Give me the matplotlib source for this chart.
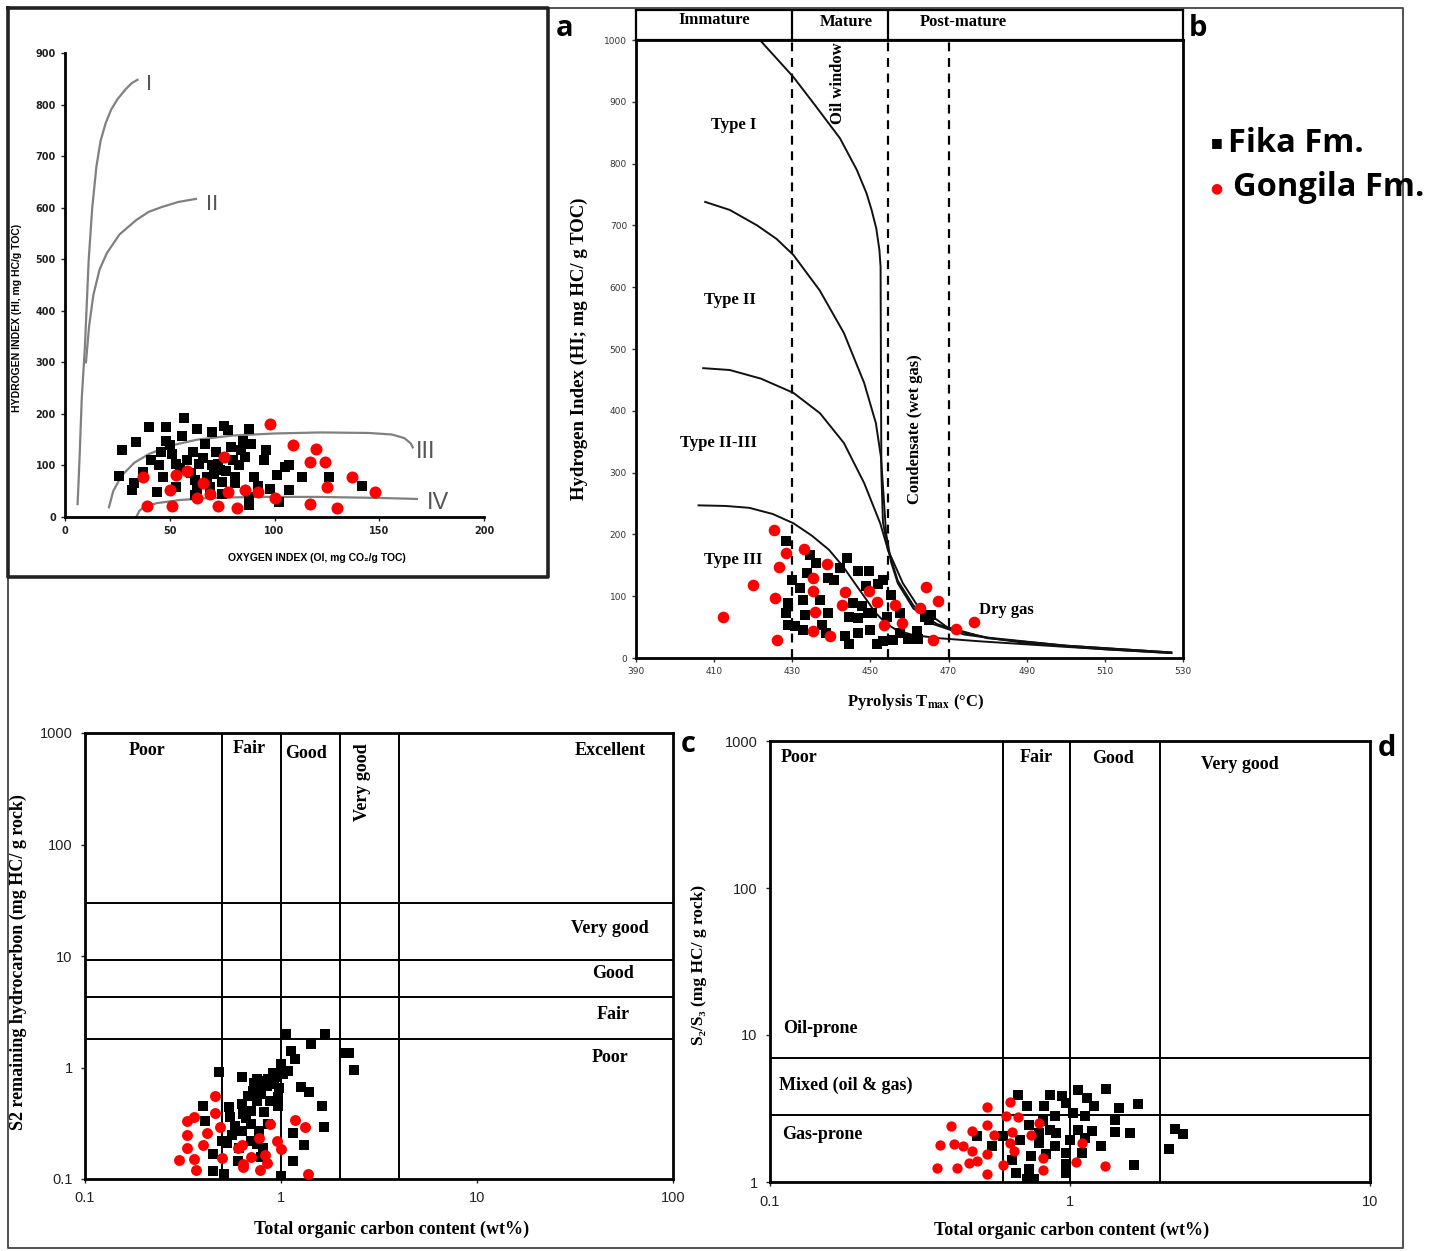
import matplotlib.pyplot as plt
from matplotlib.ticker import NullLocator

plt.rcParams['mathtext.fontset'] = 'stix'

W, H = 1433, 1251

# ---------------- data ----------------
# panel a: HI vs OI
a_fika_oi = [27, 26, 34, 40, 48, 57, 56, 63, 70, 76, 78, 88, 48, 41, 46, 51, 53, 61, 67, 72,
             79, 85, 89, 86, 96, 95, 80, 73, 64, 58, 71, 77, 81, 90, 101, 105, 107, 113, 126, 142,
             32, 33, 44, 47, 53, 62, 68, 62, 75, 81, 88, 88, 98, 102, 107, 75, 69,
             55, 60, 66, 70, 74, 83, 92, 45, 37, 50, 63, 84]
a_fika_hi = [129, 79, 145, 174, 174, 192, 158, 171, 165, 177, 168, 171, 148, 110, 126, 123, 103, 126, 142, 126,
             135, 148, 142, 116, 129, 110, 110, 103, 103, 110, 84, 90, 77, 77, 81, 97, 100, 77, 77, 61,
             52, 65, 48, 77, 58, 42, 77, 71, 68, 65, 39, 23, 55, 29, 52, 45, 58,
             95, 85, 115, 100, 92, 100, 60, 100, 88, 140, 55, 130]
a_gong_oi = [98, 109, 120, 117, 124, 76, 58, 53, 37, 66, 50, 69, 63, 78, 86, 92, 100, 125, 137, 148,
             39, 51, 73, 82, 117, 130]
a_gong_hi = [181, 140, 132, 106, 106, 117, 89, 81, 77, 66, 52, 45, 37, 48, 52, 48, 37, 59, 77, 48,
             21, 21, 21, 18, 26, 18]
kerogen_I_oi = [6, 6.5, 7, 8, 9.5, 11.3, 13, 15, 17, 19.5, 22, 25, 29, 32, 34.6]
kerogen_I_hi = [25, 70, 120, 230, 330, 498, 600, 680, 730, 765, 790, 810, 830, 842, 848]
kerogen_II_oi = [10, 11.5, 13.5, 16.5, 20, 26, 34, 40, 46, 54, 62.5]
kerogen_II_hi = [300, 370, 430, 480, 512, 548, 576, 592, 601, 611, 617]
kerogen_III_oi = [21, 23, 27, 33, 40, 50, 63, 80, 100, 122, 145, 156, 162, 165, 166]
kerogen_III_hi = [19, 50, 80, 105, 122, 138, 150, 158, 162, 164, 163, 160, 153, 143, 135]
kerogen_IV_oi = [34, 35.5, 38, 44, 55, 70, 90, 120, 150, 168]
kerogen_IV_hi = [0, 12, 20, 27, 33, 37, 39, 39, 37, 35]

# panel b: HI vs Tmax
b_fika_t = [428.4, 434.6, 436, 444, 442.2, 430, 432, 433.8, 439.2, 440.8, 446.7, 449.6, 448.9, 453.2, 452,
            455.3, 428.9, 432.7, 437, 445.6, 447.8, 450.5, 428.4, 433.2, 439.2, 444.5, 446.7, 449.4, 454.2,
            429, 430.6, 432.7, 437.5, 438.6, 443.5, 444.5, 446.7, 450, 451.6, 453.2, 455.9, 457.5, 459.6,
            462.3, 461.8, 463.9, 465.6, 465, 457.5]
b_fika_hi = [189, 167, 154, 162, 146, 127, 113, 138, 129, 127, 140, 140, 116, 127, 119,
             102, 89, 94, 94, 89, 84, 73, 73, 70, 73, 67, 65, 73, 67,
             54, 51, 46, 54, 40, 35, 22, 40, 46, 22, 27, 29, 40, 30,
             30, 43, 67, 70, 62, 73]
b_gong_t = [425.2, 433, 428.5, 426.6, 438.8, 435.4, 420, 435.4, 425.7, 443.4, 449.6, 451.8, 442.7, 456.4,
            462.6, 464.3, 467.2, 435.9, 412.2, 453.5, 458, 472, 476.6, 435.4, 439.7, 426, 466]
b_gong_hi = [207, 177, 170, 148, 152, 129, 118, 109, 97, 106, 109, 90, 86, 85,
             81, 115, 93, 74, 66, 54, 57, 47, 59, 44, 35, 29, 29]
typeI_t = [421.7, 426, 430.3, 436, 442.2, 446.5, 449, 450.3, 451.5, 452.3, 452.6, 452.7, 452.8, 453.2,
           454.5, 457, 461, 466, 474, 490, 510, 527]
typeI_hi = [1000, 970, 940, 893, 841, 790, 752, 725, 695, 660, 633, 450, 300, 220,
            175, 125, 85, 55, 38, 24, 14, 8]
typeII_t = [407.7, 414, 421, 426, 430.3, 437, 443.2, 448.4, 451.4, 452.7, 453.4, 454, 455.3, 457, 461, 467,
            474, 480, 500, 527]
typeII_hi = [738, 725, 700, 678, 652, 595, 526, 445, 380, 325, 260, 202, 155, 121, 80, 55, 41, 33, 20, 9]
typeII_III_t = [407.2, 414, 422, 430.3, 437.1, 443.2, 448.4, 452.5, 454.5, 458.3, 462, 469.6, 480, 500, 527]
typeII_III_hi = [469, 466, 452, 429, 396, 348, 283, 218, 175, 121, 85, 50, 32, 20, 9]
typeIII_t = [406, 413, 419, 425, 430.3, 435, 439.4, 443, 446, 448.8, 451.3, 454, 456.7, 461, 467.6, 478,
             500, 527]
typeIII_hi = [247, 246, 243, 233, 218, 198, 175, 148, 121, 96, 73, 56, 45, 37, 32, 27, 18, 8]
maturity_dashes = [430, 454.5, 470]
maturity_bounds = [430, 454.5]

# panel c: S2 vs TOC
c_fika_toc = [1.06, 1.67, 1.43, 1.13, 1.18, 2.09, 2.23, 2.37, 1.0, 1.09, 0.91, 0.86, 0.75, 0.73, 0.79,
              0.48, 0.63, 1.26, 1.39, 0.96, 0.97, 1.61, 1.66, 1.15, 1.31, 1.15, 1.0, 0.51, 0.45, 0.45,
              0.40, 0.41, 0.54, 0.55, 0.63, 0.64, 0.70, 0.75, 0.79, 0.85, 0.70, 0.63, 0.56, 0.50, 0.53,
              0.61, 0.70, 0.77, 0.75, 0.81, 0.60, 0.79, 0.86, 0.98, 0.92, 0.85,
              0.68, 0.72, 0.66, 0.58, 0.82, 0.88, 0.93, 1.02]
c_fika_s2 = [1.99, 1.99, 1.62, 1.41, 1.19, 1.35, 1.35, 0.95, 1.07, 0.93, 0.90, 0.79, 0.79, 0.73, 0.64,
             0.91, 0.82, 0.67, 0.60, 0.54, 0.45, 0.45, 0.29, 0.26, 0.20, 0.146, 0.107, 0.11, 0.118, 0.167,
             0.45, 0.33, 0.44, 0.36, 0.47, 0.38, 0.41, 0.50, 0.58, 0.68, 0.31, 0.27, 0.25, 0.22, 0.21,
             0.19, 0.22, 0.27, 0.205, 0.19, 0.146, 0.156, 0.31, 0.66, 0.71, 0.76,
             0.55, 0.62, 0.35, 0.30, 0.40, 0.50, 0.82, 0.88]
c_gong_toc = [0.46, 0.46, 0.36, 0.33, 0.33, 0.33, 0.30, 0.36, 0.37, 0.42, 0.40, 0.49, 0.50, 0.60, 0.63,
              0.64, 0.64, 0.70, 0.77, 0.78, 0.83, 0.85, 0.88, 0.95, 1.0, 1.18, 1.32, 1.38]
c_gong_s2 = [0.55, 0.39, 0.36, 0.33, 0.25, 0.19, 0.149, 0.15, 0.12, 0.26, 0.20, 0.29, 0.154, 0.19, 0.20,
             0.136, 0.127, 0.156, 0.235, 0.12, 0.165, 0.14, 0.31, 0.22, 0.185, 0.34, 0.29, 0.112]
c_toc_bounds = [0.5, 1, 2, 4]
c_s2_bounds = [30, 9.3, 4.3, 1.8]

# panel d: S2/S3 vs TOC
d_fika_toc = [0.67, 0.72, 0.86, 0.82, 0.94, 0.97, 1.06, 1.14, 1.20, 1.32, 1.46, 1.68, 1.02, 1.12, 0.89,
              0.81, 1.41, 0.73, 0.86, 1.06, 1.18, 1.41, 1.58, 0.49, 0.55, 0.60, 0.68, 0.79, 0.89, 1.00,
              1.12, 1.27, 1.10, 0.97, 0.83, 0.74, 0.64, 0.66, 0.73, 0.72, 0.76, 0.97, 0.97, 1.63, 2.14,
              2.24, 2.38, 0.90, 0.79]
d_fika_ratio = [3.92, 3.27, 3.92, 3.27, 3.82, 3.45, 4.2, 3.72, 3.27, 4.29, 3.19, 3.39, 2.95, 2.8, 2.8,
                2.59, 2.66, 2.46, 2.27, 2.27, 2.22, 2.2, 2.16, 2.05, 1.75, 2.05, 1.94, 1.85, 1.75, 1.94,
                2.0, 1.77, 1.58, 1.58, 1.54, 1.5, 1.42, 1.16, 1.22, 1.04, 1.04, 1.32, 1.16, 1.3, 1.68,
                2.3, 2.13, 2.16, 2.16]
d_gong_toc = [0.63, 0.53, 0.61, 0.67, 0.40, 0.47, 0.53, 0.56, 0.64, 0.79, 0.74, 0.37, 0.41, 0.44, 0.47,
              0.63, 0.65, 0.53, 0.49, 0.46, 0.42, 0.36, 0.53, 0.60, 0.81, 0.81, 1.10, 1.05, 1.31]
d_gong_ratio = [3.5, 3.22, 2.8, 2.77, 2.39, 2.24, 2.46, 2.1, 2.18, 2.52, 2.1, 1.78, 1.82, 1.75, 1.62,
                1.83, 1.62, 1.54, 1.39, 1.34, 1.24, 1.24, 1.14, 1.3, 1.46, 1.2, 1.85, 1.37, 1.28]
d_toc_bounds = [0.6, 1, 2]
d_ratio_bounds = [7, 2.85]

SERIF = ['Liberation Serif', 'DejaVu Serif']
SANS = ['Liberation Sans', 'DejaVu Sans']

fig = plt.figure(figsize=(W / 100, H / 100), dpi=100)


def px_axes(x0, y0, x1, y1):
    # axes placed by pixel box of the reference picture
    return fig.add_axes([x0 / W, 1 - y1 / H, (x1 - x0) / W, (y1 - y0) / H])


# frame lines
frame = px_axes(0, 0, W, H)
frame.set_xlim(0, W)
frame.set_ylim(H, 0)
frame.axis('off')
frame.plot([8, 1403, 1403, 8, 8], [8, 8, 1248, 1248, 8], color='#444', lw=1.3)
frame.plot([8, 548, 548, 8, 8], [8, 8, 577, 577, 8], color='#222', lw=2.6)

# ---------------- panel a ----------------
ax = px_axes(65, 53, 484, 517)
ax.set_xlim(0, 200)
ax.set_ylim(0, 900)
ax.spines['top'].set_visible(False)
ax.spines['right'].set_visible(False)
for s in ['left', 'bottom']:
    ax.spines[s].set_linewidth(2)
ax.set_xticks(range(0, 201, 50))
ax.set_yticks(range(0, 901, 100))
ax.tick_params(labelsize=7, length=3, width=1, colors='#222')
for lbl in ax.get_xticklabels() + ax.get_yticklabels():
    lbl.set_fontweight('bold')
for xs, ys in [(kerogen_I_oi, kerogen_I_hi), (kerogen_II_oi, kerogen_II_hi),
               (kerogen_III_oi, kerogen_III_hi), (kerogen_IV_oi, kerogen_IV_hi)]:
    ax.plot(xs, ys, color='#808080', lw=1.6, zorder=1, solid_joinstyle='round')
ax.text(40, 838, 'I', color='#555', fontsize=16, ha='center', va='center', family=SANS)
ax.text(70, 606, 'II', color='#555', fontsize=16, ha='center', va='center', family=SANS)
ax.text(172, 126, 'III', color='#555', fontsize=17, ha='center', va='center', family=SANS)
ax.text(178, 27, 'IV', color='#555', fontsize=17, ha='center', va='center', family=SANS)
ax.scatter(a_fika_oi, a_fika_hi, marker='s', s=60, color='black', linewidths=0, zorder=3)
ax.scatter(a_gong_oi, a_gong_hi, marker='o', s=75, color='#ff0000', linewidths=0, zorder=4)
ax.set_ylabel('HYDROGEN INDEX (HI, mg HC/g TOC)', fontsize=7.5, fontweight='bold', family=SANS)
ax.yaxis.set_label_coords(-0.103, 0.43)
ax.set_xlabel('OXYGEN INDEX (OI, mg CO₂/g TOC)', fontsize=7.5, fontweight='bold', family=SANS)
ax.xaxis.set_label_coords(0.6, -0.078)

# ---------------- panel b ----------------
hx = px_axes(636, 10, 1183, 40)
hx.set_xlim(390, 530)
hx.set_ylim(0, 1)
hx.set_xticks([])
hx.set_yticks([])
for s in hx.spines.values():
    s.set_linewidth(1.6)
for v in maturity_bounds:
    hx.axvline(v, color='black', lw=1.6)
hkw = dict(fontsize=12, fontweight='bold', family=SERIF, ha='center', va='center')
hx.text(410, 0.65, 'Immature', **hkw)
hx.text(443.7, 0.6, 'Mature', **hkw)
hx.text(473.7, 0.6, 'Post-mature', **hkw)

bx = px_axes(636, 40, 1183, 658)
bx.set_xlim(390, 530)
bx.set_ylim(0, 1000)
for s in bx.spines.values():
    s.set_linewidth(2)
bx.set_xticks(range(390, 531, 20))
bx.set_yticks(range(0, 1001, 100))
bx.tick_params(labelsize=6.5, length=3, width=1, colors='#333')
for v in maturity_dashes:
    bx.axvline(v, color='black', lw=1.6, ls=(0, (4, 3)))
for xs, ys in [(typeI_t, typeI_hi), (typeII_t, typeII_hi),
               (typeII_III_t, typeII_III_hi), (typeIII_t, typeIII_hi)]:
    bx.plot(xs, ys, color='#111', lw=1.4, zorder=2, solid_joinstyle='round')
bx.scatter(b_fika_t, b_fika_hi, marker='s', s=55, color='black', linewidths=0, zorder=3)
bx.scatter(b_gong_t, b_gong_hi, marker='o', s=70, color='#ff0000', linewidths=0, zorder=4)
tkw = dict(fontsize=12, fontweight='bold', family=SERIF, ha='center', va='center')
bx.text(415, 862, 'Type I', **tkw)
bx.text(414, 580, 'Type II', **tkw)
bx.text(411, 348, 'Type II-III', **tkw)
bx.text(415, 159, 'Type III', **tkw)
bx.text(484.7, 78, 'Dry gas', **tkw)
bx.text(441.7, 930, 'Oil window', rotation=90, **tkw)
bx.text(461.4, 370, 'Condensate (wet gas)', rotation=90, **tkw)
bx.set_ylabel('Hydrogen Index (HI; mg HC/ g TOC)', fontsize=13.5, fontweight='bold', family=SERIF)
bx.yaxis.set_label_coords(-0.088, 0.5)
bx.set_xlabel(r'Pyrolysis T$_{\mathbf{max}}$ (°C)', fontsize=12, fontweight='bold', family=SERIF)
bx.xaxis.set_label_coords(0.512, -0.055)

# legend
fig.text(1217 / W, 1 - 143 / H, '■', fontsize=9, ha='center', va='center', family=['DejaVu Sans'])
fig.text(1228 / W, 1 - 143 / H, 'Fika Fm.', fontsize=23.5, fontweight='bold', ha='left', va='center',
         family=['Open Sans', 'DejaVu Sans'])
fig.text(1216 / W, 1 - 188 / H, '●', fontsize=10, color='#ff0000', ha='center', va='center',
         family=['DejaVu Sans'])
fig.text(1233 / W, 1 - 188 / H, 'Gongila Fm.', fontsize=23.5, fontweight='bold', ha='left', va='center',
         family=['Open Sans', 'DejaVu Sans'])

# panel letters
for lx, ly, letter in [(565, 28, 'a'), (1198, 28, 'b'), (688, 745, 'c'), (1387, 749, 'd')]:
    fig.text(lx / W, 1 - ly / H, letter, fontsize=21, fontweight='bold', ha='center', va='center',
             family=['Open Sans', 'DejaVu Sans'])


def log_frame(axx, xt, yt):
    axx.set_xscale('log')
    axx.set_yscale('log')
    for s in axx.spines.values():
        s.set_linewidth(2)
    axx.set_xticks(xt)
    axx.set_xticklabels([('%g' % v) for v in xt])
    axx.set_yticks(yt)
    axx.set_yticklabels([('%g' % v) for v in yt])
    axx.xaxis.set_minor_locator(NullLocator())
    axx.yaxis.set_minor_locator(NullLocator())
    axx.tick_params(labelsize=10.5, length=3, width=1, colors='#222', pad=6)
    for lbl in axx.get_xticklabels() + axx.get_yticklabels():
        lbl.set_family(SANS)


# ---------------- panel c ----------------
cx = px_axes(85, 733, 673, 1179)
log_frame(cx, [0.1, 1, 10, 100], [0.1, 1, 10, 100, 1000])
cx.set_xlim(0.1, 100)
cx.set_ylim(0.1, 1000)
for v in c_toc_bounds:
    cx.axvline(v, color='black', lw=1.4)
for v in c_s2_bounds:
    cx.axhline(v, color='black', lw=1.4)
ckw = dict(fontsize=13, fontweight='bold', family=SERIF, ha='center', va='center')
cx.text(0.207, 700, 'Poor', **ckw)
cx.text(0.687, 720, 'Fair', **ckw)
cx.text(1.34, 650, 'Good', **ckw)
cx.text(2.62, 360, 'Very good', rotation=90, **ckw)
cx.text(48, 690, 'Excellent', **ckw)
cx.text(47.7, 17.8, 'Very good', **ckw)
cx.text(49.4, 6.9, 'Good', **ckw)
cx.text(49.4, 2.96, 'Fair', **ckw)
cx.text(47.7, 1.24, 'Poor', **ckw)
cx.scatter(c_fika_toc, c_fika_s2, marker='s', s=45, color='black', linewidths=0, zorder=3)
cx.scatter(c_gong_toc, c_gong_s2, marker='o', s=62, color='#ff0000', linewidths=0, zorder=4)
cx.set_ylabel('S2 remaining hydrocarbon (mg HC/ g rock)', fontsize=13, fontweight='bold', family=SERIF)
cx.yaxis.set_label_coords(-0.099, 0.487)
cx.set_xlabel('Total organic carbon content (wt%)', fontsize=13, fontweight='bold', family=SERIF)
cx.xaxis.set_label_coords(0.522, -0.094)

# ---------------- panel d ----------------
dx = px_axes(770, 741, 1370, 1182)
log_frame(dx, [0.1, 1, 10], [1, 10, 100, 1000])
dx.set_xlim(0.1, 10)
dx.set_ylim(1, 1000)
for v in d_toc_bounds:
    dx.axvline(v, color='black', lw=1.4)
for v in d_ratio_bounds:
    dx.axhline(v, color='black', lw=1.4)
dx.text(0.125, 778, 'Poor', **ckw)
dx.text(0.77, 778, 'Fair', **ckw)
dx.text(1.39, 755, 'Good', **ckw)
dx.text(3.69, 687, 'Very good', **ckw)
dx.text(0.147, 11.0, 'Oil-prone', **ckw)
dx.text(0.179, 4.57, 'Mixed (oil & gas)', **ckw)
dx.text(0.149, 2.09, 'Gas-prone', **ckw)
dx.scatter(d_fika_toc, d_fika_ratio, marker='s', s=42, color='black', linewidths=0, zorder=3)
dx.scatter(d_gong_toc, d_gong_ratio, marker='o', s=55, color='#ff0000', linewidths=0, zorder=4)
dx.set_ylabel('S₂/S₃ (mg HC/ g rock)', fontsize=12.5, fontweight='bold', family=SERIF)
dx.yaxis.set_label_coords(-0.105, 0.492)
dx.set_xlabel('Total organic carbon content (wt%)', fontsize=13, fontweight='bold', family=SERIF)
dx.xaxis.set_label_coords(0.503, -0.091)

fig.savefig('out.png', dpi=100)
